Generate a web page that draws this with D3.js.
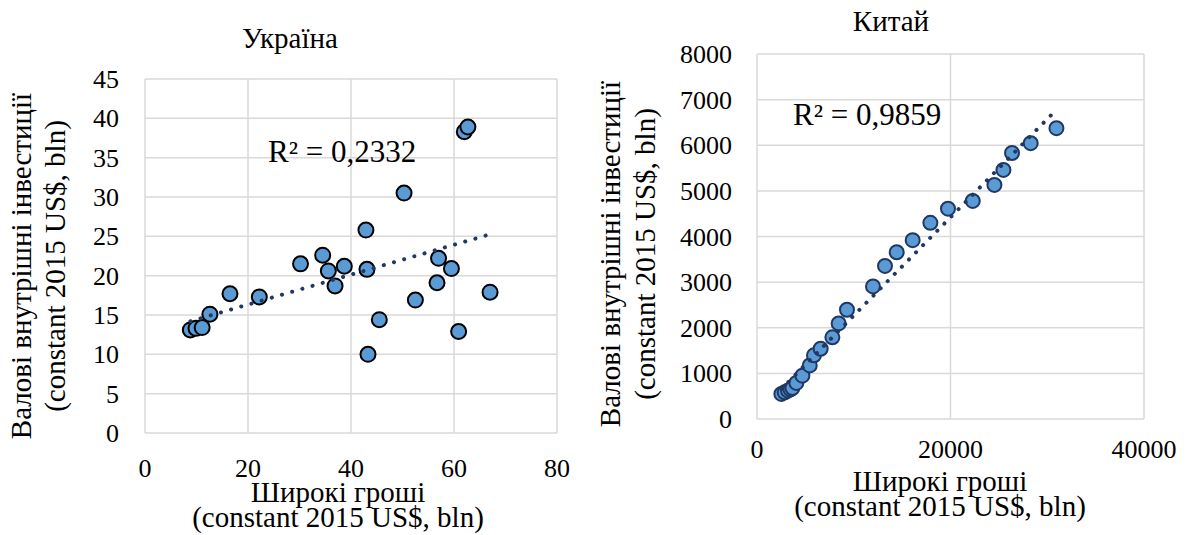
<!DOCTYPE html>
<html>
<head>
<meta charset="utf-8">
<script src="https://cdn.jsdelivr.net/npm/d3@7"></script>
<style>
  html, body { margin: 0; padding: 0; background: #fff; }
  svg { display: block; }
</style>
</head>
<body>
<svg id="chart" width="1186" height="535"></svg>
<script>
// ---------- DATA ----------
const titles = ["Україна", "Китай"];
const r2Labels = ["R² = 0,2332", "R² = 0,9859"];
const yTitleLines = ["Валові внутрішні інвестиції", "(constant 2015 US$, bln)"];
const xTitleLines = ["Широкі гроші", "(constant 2015 US$, bln)"];

const ukrTicksX = [0, 20, 40, 60, 80];
const ukrTicksY = [0, 5, 10, 15, 20, 25, 30, 35, 40, 45];
const chnTicksX = [0, 20000, 40000];
const chnTicksY = [0, 1000, 2000, 3000, 4000, 5000, 6000, 7000, 8000];

const ukrMoney = [8.8, 9.9, 11.1, 12.6, 16.5, 22.2, 30.2, 34.5, 35.6, 38.7, 36.9, 42.9, 43.1, 43.3, 45.5, 50.3, 52.5, 56.7, 57.0, 59.5, 60.9, 62.0, 62.7, 67.0];
const ukrInvest = [13.1, 13.3, 13.4, 15.1, 17.7, 17.3, 21.5, 22.6, 20.6, 21.2, 18.7, 25.8, 20.8, 10.0, 14.4, 30.5, 16.9, 19.1, 22.2, 20.9, 12.9, 38.3, 38.9, 17.9];

const chnMoney = [2520, 2860, 3200, 3450, 3660, 4070, 4690, 5450, 5890, 6580, 7790, 8440, 9300, 11990, 13230, 14440, 16090, 17920, 19740, 22300, 24540, 25470, 26360, 28290, 30950];
const chnInvest = [550, 585, 620, 650, 680, 790, 950, 1175, 1395, 1540, 1790, 2095, 2395, 2905, 3355, 3655, 3920, 4300, 4610, 4780, 5130, 5460, 5830, 6045, 6375];

// ---------- DRAW ----------
const FONT = "Liberation Serif";
const svg = d3.select("#chart");

function txt(sel, size) {
  return sel.attr("font-family", FONT).attr("font-size", size).attr("fill", "#000");
}

function linReg(xs, ys) {
  const n = xs.length;
  const mx = d3.mean(xs), my = d3.mean(ys);
  let sxy = 0, sxx = 0;
  for (let i = 0; i < n; i++) { sxy += (xs[i] - mx) * (ys[i] - my); sxx += (xs[i] - mx) ** 2; }
  const b = sxy / sxx;
  return { b, a: my - b * mx };
}

function panel(cfg) {
  const g = svg.append("g");
  const x = d3.scaleLinear().domain(cfg.xDomain).range([cfg.left, cfg.right]);
  const y = d3.scaleLinear().domain(cfg.yDomain).range([cfg.bottom, cfg.top]);

  // gridlines
  g.append("g").selectAll("line").data(cfg.yTicks).join("line")
    .attr("x1", cfg.left).attr("x2", cfg.right)
    .attr("y1", d => y(d)).attr("y2", d => y(d))
    .attr("stroke", "#d9d9d9").attr("stroke-width", 1.5);
  g.append("g").selectAll("line").data(cfg.xTicks).join("line")
    .attr("y1", cfg.top).attr("y2", cfg.bottom)
    .attr("x1", d => x(d)).attr("x2", d => x(d))
    .attr("stroke", "#d9d9d9").attr("stroke-width", 1.5);

  // tick labels
  txt(g.append("g").selectAll("text").data(cfg.yTicks).join("text"), 26)
    .attr("x", cfg.yTickX).attr("y", d => y(d) + 9)
    .attr("text-anchor", "end")
    .text(d => d);
  txt(g.append("g").selectAll("text").data(cfg.xTicks).join("text"), 26)
    .attr("x", d => x(d)).attr("y", cfg.xTickY)
    .attr("text-anchor", "middle")
    .text(d => d);

  // points
  const pts = cfg.xs.map((v, i) => [v, cfg.ys[i]]);
  g.append("g").selectAll("circle").data(pts).join("circle")
    .attr("cx", d => x(d[0])).attr("cy", d => y(d[1]))
    .attr("r", cfg.r)
    .attr("fill", "#5b9bd5")
    .attr("stroke", cfg.markerStroke).attr("stroke-width", 2);

  // trendline
  const { a, b } = linReg(cfg.xs, cfg.ys);
  const x0 = d3.min(cfg.xs), x1 = d3.max(cfg.xs);
  g.append("line")
    .attr("x1", x(x0)).attr("y1", y(a + b * x0))
    .attr("x2", x(x1)).attr("y2", y(a + b * x1))
    .attr("stroke", "#203864").attr("stroke-width", 4)
    .attr("stroke-linecap", "round")
    .attr("stroke-dasharray", "0.1 " + cfg.dotGap);

  // R² label
  txt(g.append("text"), 31).attr("x", cfg.r2X).attr("y", cfg.r2Y).text(cfg.r2);

  // title
  txt(g.append("text"), 29).attr("x", cfg.titleX).attr("y", cfg.titleY)
    .attr("text-anchor", "middle").text(cfg.title);

  // x title
  xTitleLines.forEach((t, i) => {
    txt(g.append("text"), 29).attr("x", cfg.xTitleX).attr("y", cfg.xTitleY[i])
      .attr("text-anchor", "middle").text(t);
  });

  // y title
  yTitleLines.forEach((t, i) => {
    txt(g.append("text"), 29)
      .attr("transform", `translate(${cfg.yTitleX[i]},${cfg.yTitleCY}) rotate(-90)`)
      .attr("text-anchor", "middle").text(t);
  });
}

panel({
  xs: ukrMoney, ys: ukrInvest,
  xDomain: [0, 80], yDomain: [0, 45], xTicks: ukrTicksX, yTicks: ukrTicksY,
  left: 145, right: 557, top: 79, bottom: 433,
  yTickX: 119, xTickY: 477, r: 7.5,
  markerStroke: "#000", dotGap: 10.5,
  r2: r2Labels[0], r2X: 268, r2Y: 162,
  title: titles[0], titleX: 290, titleY: 48,
  xTitleX: 338, xTitleY: [502, 527],
  yTitleX: [31, 65], yTitleCY: 266
});

panel({
  xs: chnMoney, ys: chnInvest,
  xDomain: [0, 40000], yDomain: [0, 8000], xTicks: chnTicksX, yTicks: chnTicksY,
  left: 757, right: 1144, top: 54, bottom: 419,
  yTickX: 732, xTickY: 458, r: 7,
  markerStroke: "#1f3864", dotGap: 10,
  r2: r2Labels[1], r2X: 793, r2Y: 125,
  title: titles[1], titleX: 891, titleY: 31,
  xTitleX: 940, xTitleY: [491, 516],
  yTitleX: [620, 655], yTitleCY: 254
});
</script>
</body>
</html>
